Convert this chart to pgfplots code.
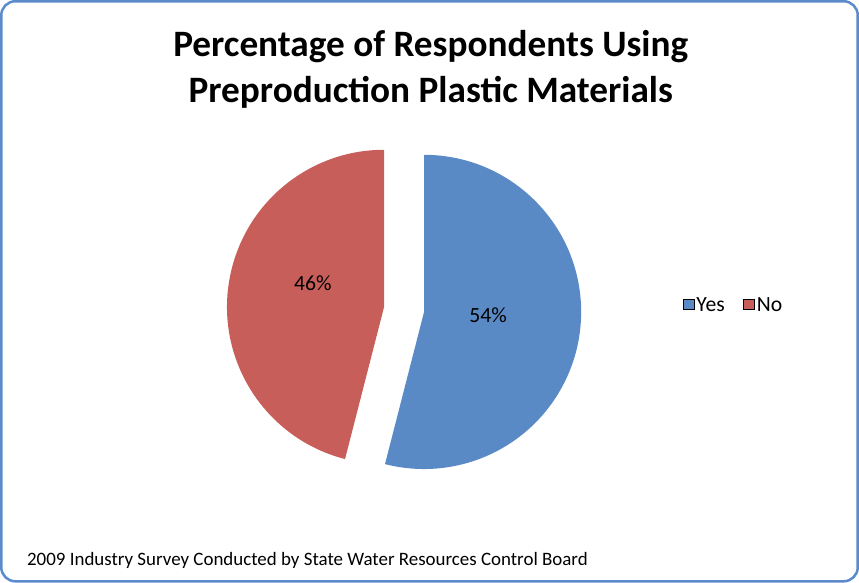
\documentclass[border=0pt]{standalone}
\usepackage{pgfplots}
\pgfplotsset{compat=1.18}
\usepackage{pgfplotstable}
\usepackage{fontspec}
\setmainfont{Carlito}
\definecolor{yescol}{HTML}{5A8AC6}
\definecolor{nocol}{HTML}{C85E5A}
\definecolor{framecol}{HTML}{5B8BCB}
\pgfplotstableread{
label value
Yes 54
No 46
}\piedata
\begin{document}
\begin{tikzpicture}
\pgfplotstablegetelem{0}{value}\of\piedata \let\vyes\pgfplotsretval
\pgfplotstablegetelem{1}{value}\of\piedata \let\vno\pgfplotsretval
\pgfmathsetmacro{\tot}{\vyes+\vno}
\pgfmathsetmacro{\ayes}{360*(\vyes/\tot)}
\pgfmathsetmacro{\yend}{90-\ayes}
\pgfmathsetmacro{\ybis}{90-\ayes/2}
\pgfmathsetmacro{\nbis}{\yend-(360-\ayes)/2}
\pgfmathsetmacro{\nend}{\yend-(360-\ayes)}
\def\cx{404.5}\def\cy{274.5}\def\r{156}\def\ex{20}
\pgfmathsetmacro{\yx}{\cx+\ex*cos(\ybis)}
\pgfmathsetmacro{\yy}{\cy+\ex*sin(\ybis)}
\pgfmathsetmacro{\nx}{\cx+\ex*cos(\nbis)}
\pgfmathsetmacro{\ny}{\cy+\ex*sin(\nbis)}
\begin{axis}[scale only axis, width=859bp, height=585bp,
  xmin=0, xmax=859, ymin=0, ymax=585, hide axis, clip=false,
  at={(0,0)}, anchor=south west,
  legend style={at={(axis cs:732,279)}, anchor=center, draw=none, fill=none,
    legend columns=2, font=\fontsize{21.5bp}{25bp}\selectfont,
    nodes={font=\fontsize{21.5bp}{25bp}\selectfont, inner xsep=2.5bp},
    /tikz/every even column/.append style={column sep=16bp},
    legend cell align=left},
  legend image code/.code={\fill[#1] (0bp,-4.5bp) rectangle (10.5bp,6bp);},
]
\draw[framecol, line width=2.5bp, rounded corners=14bp] (axis cs:4.5,4.5) rectangle (axis cs:855,580.5);
\fill[yescol] (axis cs:\yx,\yy) -- ++(90:\r bp) arc[start angle=90, end angle=\yend, radius=\r bp] -- cycle;
\fill[nocol] (axis cs:\nx,\ny) -- ++(\yend:\r bp) arc[start angle=\yend, end angle=\nend, radius=\r bp] -- cycle;
\addlegendimage{fill=yescol}
\addlegendentry{Yes}
\addlegendimage{fill=nocol}
\addlegendentry{No}
\node[font=\fontsize{21.5bp}{25bp}\selectfont] at (axis cs:488,269) {54\%};
\node[font=\fontsize{21.5bp}{25bp}\selectfont] at (axis cs:314,301) {46\%};
\node[align=center, font=\fontsize{37bp}{45bp}\selectfont\bfseries] at (axis cs:431,513) {Percentage of Respondents Using\\Preproduction Plastic Materials};
\node[anchor=west, font=\fontsize{18.8bp}{22bp}\selectfont, inner sep=0pt] at (axis cs:30,25) {2009 Industry Survey Conducted by State Water Resources Control Board};
\end{axis}
\end{tikzpicture}
\end{document}
